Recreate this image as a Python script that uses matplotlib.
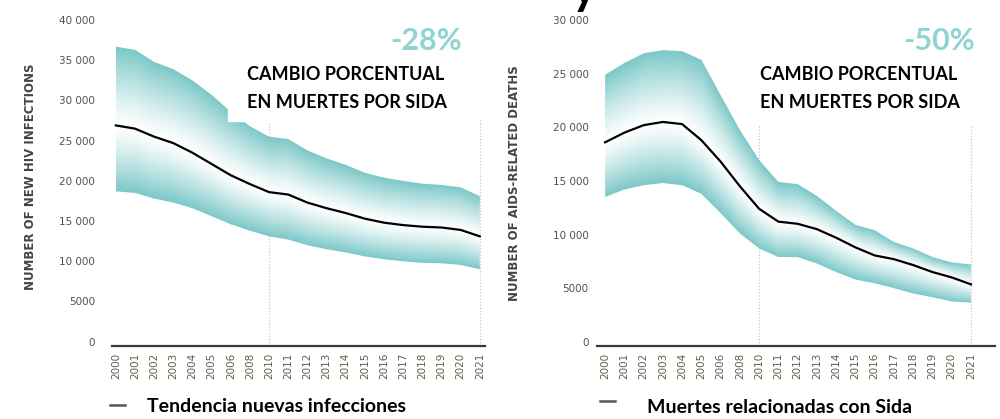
import numpy as np
import matplotlib
matplotlib.use("Agg")
import matplotlib.pyplot as plt
from matplotlib.patches import PathPatch, Rectangle

# x axis labels (2007 and 2009 are not shown in the source chart)
year_labels = ["2000", "2001", "2002", "2003", "2004", "2005", "2006", "2008", "2010",
               "2011", "2012", "2013", "2014", "2015", "2016", "2017", "2018", "2019",
               "2020", "2021"]

# new HIV infections: estimate and uncertainty bounds
inf_mid = [26900, 26500, 25500, 24700, 23500, 22100, 20700, 19600, 18600, 18300,
           17300, 16600, 16000, 15300, 14800, 14500, 14300, 14200, 13900, 13100]
inf_hi = [36700, 36300, 34800, 33900, 32500, 30700, 28600, 26800, 25500, 25200,
          23800, 22800, 22000, 21000, 20400, 20000, 19650, 19500, 19200, 18100]
inf_lo = [18700, 18500, 17800, 17300, 16600, 15600, 14600, 13800, 13100, 12700,
          12000, 11500, 11100, 10600, 10250, 10000, 9800, 9750, 9550, 9000]

# AIDS-related deaths: estimate and uncertainty bounds
dth_mid = [18600, 19500, 20200, 20500, 20300, 18800, 16800, 14500, 12400, 11200,
           11000, 10500, 9700, 8800, 8050, 7700, 7150, 6500, 6000, 5350]
dth_hi = [24900, 26000, 26900, 27200, 27100, 26300, 23000, 19750, 16950, 14900,
          14700, 13600, 12200, 10900, 10400, 9300, 8700, 7900, 7400, 7200]
dth_lo = [13500, 14200, 14600, 14800, 14600, 13800, 12000, 10100, 8700, 7900,
          7900, 7300, 6500, 5800, 5450, 5000, 4500, 4150, 3750, 3650]

inf_ticks = [0, 5000, 10000, 15000, 20000, 25000, 30000, 35000, 40000]
dth_ticks = [0, 5000, 10000, 15000, 20000, 25000, 30000]

TEAL = np.array([0x7c, 0xc8, 0xc8]) / 255.
W, H = 1000, 419


def fx(px):
    return px / W


def fy(py):
    return (H - py) / H


def tick_fmt(v):
    if v < 10000:
        return str(v)
    return f"{v // 1000} {v % 1000:03d}"


def gradient_band(ax, x, lo, mid, hi, ymin, ymax):
    lo, mid, hi = np.array(lo), np.array(mid), np.array(hi)
    xs = np.linspace(x[0], x[-1], 600)
    ys = np.linspace(ymin, ymax, 600)
    l = np.interp(xs, x, lo)
    m = np.interp(xs, x, mid)
    h = np.interp(xs, x, hi)
    X, Y = np.meshgrid(xs, ys)
    t = np.where(Y >= m, (Y - m) / (h - m), (m - Y) / (m - l))
    t = np.clip(t, 0, 1) ** 1.2
    img = 1 - t[..., None] * (1 - TEAL)
    im = ax.imshow(img, origin="lower", extent=(xs[0], xs[-1], ymin, ymax),
                   aspect="auto", interpolation="bilinear", zorder=1)
    poly = ax.fill_between(x, lo, hi, facecolor="none", edgecolor="none")
    patch = PathPatch(poly.get_paths()[0], transform=ax.transData,
                      facecolor="none", edgecolor="none")
    ax.add_patch(patch)
    im.set_clip_path(patch)


def setup(ax, ticks, ylim, xlim, ylabel, label_xy, vtop):
    ax.set_xlim(*xlim)
    ax.set_ylim(*ylim)
    for s in ["left", "right", "top"]:
        ax.spines[s].set_visible(False)
    ax.spines["bottom"].set_color("#3a3a3a")
    ax.spines["bottom"].set_linewidth(1.6)
    ax.spines["bottom"].set_zorder(4)
    ax.set_yticks(ticks)
    ax.set_yticklabels([tick_fmt(v) for v in ticks], color="#5a5048", fontsize=7.5)
    ax.set_xticks(np.arange(len(year_labels)))
    ax.set_xticklabels(year_labels, rotation=90, color="#6a5a48", fontsize=7.5)
    ax.tick_params(length=0)
    ax.tick_params(axis="x", pad=5)
    ax.set_ylabel(ylabel, fontsize=8.5, color="#444444", fontweight="bold")
    ax.yaxis.set_label_coords(*label_xy)
    for xv in [8, 19]:
        ax.vlines(xv, ylim[0], vtop, colors="#c8c8c8", linestyles=(0, (1, 1.5)),
                  linewidth=0.9, zorder=0.5)


fig = plt.figure(figsize=(10, 4.19), dpi=100)
x = np.arange(len(year_labels))

ax1 = fig.add_axes([0.112, 0.175, 0.373, 0.777])
setup(ax1, inf_ticks, (-500, 40000), (-0.2, 19.27), "NUMBER OF NEW HIV INFECTIONS",
      (-0.2, 0.52), 27600)
ax1.tick_params(axis="y", pad=12)
gradient_band(ax1, x, inf_lo, inf_mid, inf_hi, 0, 40000)
ax1.plot(x, inf_mid, color="black", lw=1.6, zorder=3)

ax2 = fig.add_axes([0.597, 0.175, 0.398, 0.777])
setup(ax2, dth_ticks, (-370, 30000), (-0.42, 20.25), "NUMBER OF AIDS-RELATED DEATHS",
      (-0.19, 0.5), 20200)
ax2.tick_params(axis="y", pad=6)
gradient_band(ax2, x, dth_lo, dth_mid, dth_hi, 0, 30000)
ax2.plot(x, dth_mid, color="black", lw=1.6, zorder=3)

# white text boxes laid over the charts
fig.patches.append(Rectangle((fx(228), fy(121)), fx(245), 1 - fy(121), color="white",
                             transform=fig.transFigure, zorder=5))
fig.patches.append(Rectangle((fx(745), fy(122)), fx(245), 1 - fy(122), color="white",
                             transform=fig.transFigure, zorder=5))

font = ["Lato", "DejaVu Sans"]
for x0, x1, pct in [(247, 390, "-28%"), (760, 903, "-50%")]:
    fig.text(fx(x1), fy(50), pct, fontsize=22, fontweight="bold", color="#8fd3d3",
             family=font, zorder=6)
    fig.text(fx(x0), fy(80), "CAMBIO PORCENTUAL", fontsize=13, fontweight="bold",
             color="black", family=font, zorder=6)
    fig.text(fx(x0), fy(108), "EN MUERTES POR SIDA", fontsize=13, fontweight="bold",
             color="black", family=font, zorder=6)

# legend lines under each chart
fig.lines.append(plt.Line2D([fx(110), fx(125)], [fy(405), fy(405)], color="#555555",
                            lw=1.8, transform=fig.transFigure))
fig.text(fx(147), fy(412), "Tendencia nuevas infecciones", fontsize=14,
         fontweight="bold", color="black", family=font)
fig.lines.append(plt.Line2D([fx(600), fx(615)], [fy(401), fy(401)], color="#555555",
                            lw=1.8, transform=fig.transFigure))
fig.text(fx(647), fy(413), "Muertes relacionadas con Sida", fontsize=14,
         fontweight="bold", color="black", family=font)

# bottom of a cropped title glyph at the top edge
fig.text(fx(572), fy(4), "y", fontsize=34, fontweight="bold", color="black",
         family=font)

fig.savefig("out.png", dpi=100)
